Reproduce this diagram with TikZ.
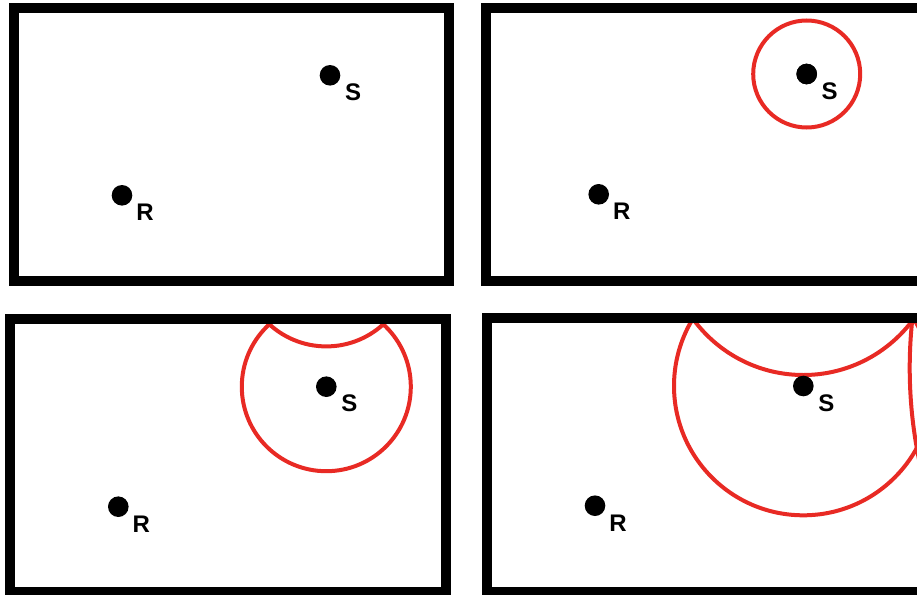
\documentclass[tikz,border=0pt]{standalone}
\usepackage{fontspec}
\newfontfamily\lblfont{Liberation Sans}
\usetikzlibrary{calc}
\definecolor{wavered}{RGB}{232,42,36}
\begin{document}
\begin{tikzpicture}[x=1pt,y=-1pt,
  wall/.style={draw=black,line width=10pt,line join=miter},
  src/.style={circle,fill=black,inner sep=0pt,minimum size=20.6pt},
  lbl/.style={font=\lblfont\bfseries\fontsize{24pt}{24pt}\selectfont,inner sep=0pt},
  wave/.style={draw=wavered,line width=4pt}]
\clip (0,0) rectangle (917,594);
% ---------- panel 1 ----------
\draw[wall] (13.7,7.7) rectangle (449.3,281);
\node[src] (s1) at (330,75.3) {};
\node[lbl] (s1l) at ($(s1)+(23,17)$) {S};
\node[src] (r1) at (122,195.3) {};
\node[lbl] (r1l) at ($(r1)+(23,17.4)$) {R};
% ---------- panel 2 ----------
\draw[wall] (485.5,7.7) rectangle (921.5,281);
\node[src] (s2) at (806.7,74) {};
\draw[wave] (s2.center) circle[radius=53.5pt];
\node[src] at (s2) {};
\node[lbl] (s2l) at ($(s2)+(23,17)$) {S};
\node[src] (r2) at (598.7,194.3) {};
\node[lbl] (r2l) at ($(r2)+(23,17.4)$) {R};
% ---------- panel 3 ----------
\draw[wall] (10.3,319.3) rectangle (445.7,592.3);
\coordinate (s3) at (326.3,386.7);
\coordinate (s3img) at (326.3,261.9);
\begin{scope}
  \clip (15.3,324.3) rectangle (440.7,587.3);
  \draw[wave] (s3) circle[radius=84.5pt];
  \draw[wave] (s3img) circle[radius=84.5pt];
\end{scope}
\node[src] (s3d) at (s3) {};
\node[lbl] (s3l) at ($(s3)+(23,17)$) {S};
\node[src] (r3) at (118.3,506.7) {};
\node[lbl] (r3l) at ($(r3)+(23,17.4)$) {R};
% ---------- panel 4 ----------
\draw[wall] (487,318.3) rectangle (926,591.7);
\coordinate (s4) at (803.3,386);
\coordinate (s4top) at (803.3,238.5);
\coordinate (s4right) at (1359.7,368);
\begin{scope}
  \clip (492,323.3) rectangle (921,586.7);
  \draw[wave] (s4) circle[radius=129.3pt];
  \draw[wave] (s4top) circle[radius=136.5pt];
  \draw[wave] (s4right) circle[radius=450pt];
\end{scope}
\node[src] (s4d) at (s4) {};
\node[lbl] (s4l) at ($(s4)+(23,17)$) {S};
\node[src] (r4) at (595,505.7) {};
\node[lbl] (r4l) at ($(r4)+(23,17.4)$) {R};
\end{tikzpicture}
\end{document}
